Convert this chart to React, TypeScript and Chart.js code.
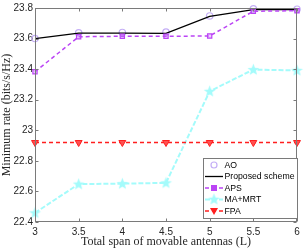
import React, { useEffect, useRef } from "react";
import { Chart, registerables } from "chart.js";
Chart.register(...registerables);

const spans = [3, 3.5, 4, 4.5, 5, 5.5, 6];
const aoRate = [23.6, 23.638, 23.64, 23.642, 23.748, 23.795, 23.792];
const proposedRate = [23.6, 23.635, 23.636, 23.634, 23.745, 23.79, 23.79];
const apsRate = [23.383, 23.612, 23.615, 23.615, 23.617, 23.779, 23.782];
const maMrtRate = [22.46, 22.648, 22.651, 22.656, 23.255, 23.397, 23.392];
const fpaRate = [22.92, 22.92, 22.92, 22.92, 22.92, 22.92, 22.92];
const xTicks = [3, 3.5, 4, 4.5, 5, 5.5, 6];
const yTicks = [22.4, 22.6, 22.8, 23, 23.2, 23.4, 23.6, 23.8];
const seriesNames = ["AO", "Proposed scheme", "APS", "MA+MRT", "FPA"];

const AO_C = "#c4aef6";
const APS_C = "#bb44f5";
const MA_C = "#a4fbfb";
const FPA_C = "#ff1f1f";
const AXIS_C = "#7a7a7a";
const TEXT_C = "#262626";

function makeStar(): HTMLCanvasElement {
  const c = document.createElement("canvas");
  c.width = 13;
  c.height = 13;
  const g = c.getContext("2d")!;
  g.fillStyle = MA_C;
  g.beginPath();
  for (let i = 0; i < 10; i++) {
    const r = i % 2 === 0 ? 6.2 : 2.6;
    const a = -Math.PI / 2 + (i * Math.PI) / 5;
    const x = 6.5 + r * Math.cos(a);
    const y = 6.8 + r * Math.sin(a);
    if (i === 0) g.moveTo(x, y);
    else g.lineTo(x, y);
  }
  g.closePath();
  g.fill();
  return c;
}

const pts = (ys: number[]) => spans.map((x, i) => ({ x, y: ys[i] }));

export default function App() {
  const ref = useRef<HTMLCanvasElement | null>(null);
  useEffect(() => {
    if (!ref.current) return;
    const star = makeStar();

    const framePlugin = {
      id: "frame",
      afterDraw(chart: any) {
        const { ctx, chartArea: a, scales } = chart;
        const l = Math.round(a.left) + 0.5;
        const r = Math.round(a.right) - 0.5;
        const t = Math.round(a.top) + 0.5;
        const b = Math.round(a.bottom) - 0.5;
        ctx.save();
        ctx.strokeStyle = AXIS_C;
        ctx.lineWidth = 1;
        ctx.strokeRect(l, t, r - l, b - t);
        ctx.beginPath();
        for (const v of xTicks) {
          const x = Math.round(scales.x.getPixelForValue(v)) + 0.5;
          ctx.moveTo(x, b);
          ctx.lineTo(x, b - 3);
          ctx.moveTo(x, t);
          ctx.lineTo(x, t + 3);
        }
        for (const v of yTicks) {
          const y = Math.round(scales.y.getPixelForValue(v)) + 0.5;
          ctx.moveTo(l, y);
          ctx.lineTo(l + 3, y);
          ctx.moveTo(r, y);
          ctx.lineTo(r - 3, y);
        }
        ctx.stroke();

        // legend
        const lx = 203.5, ly = 158.5, lw = 94, lh = 60;
        ctx.fillStyle = "#ffffff";
        ctx.fillRect(lx, ly, lw, lh);
        ctx.strokeStyle = AXIS_C;
        ctx.strokeRect(lx, ly, lw, lh);
        const rowY = [165, 176.5, 188, 199.5, 211];
        const x0 = 205, x1 = 223, xm = 214;
        ctx.font = "8.7px 'Liberation Sans', Arial, sans-serif";
        ctx.textBaseline = "middle";
        ctx.textAlign = "left";
        rowY.forEach((y, i) => {
          ctx.save();
          if (i === 0) {
            ctx.strokeStyle = AO_C;
            ctx.lineWidth = 1.2;
            ctx.beginPath();
            ctx.arc(xm, y, 3, 0, Math.PI * 2);
            ctx.stroke();
          } else if (i === 1) {
            ctx.strokeStyle = "#000";
            ctx.lineWidth = 1.3;
            ctx.beginPath();
            ctx.moveTo(x0, y);
            ctx.lineTo(x1, y);
            ctx.stroke();
          } else if (i === 2) {
            ctx.strokeStyle = APS_C;
            ctx.lineWidth = 1.5;
            ctx.setLineDash([4, 3]);
            ctx.beginPath();
            ctx.moveTo(x0, y);
            ctx.lineTo(x1, y);
            ctx.stroke();
            ctx.setLineDash([]);
            ctx.fillStyle = APS_C;
            ctx.fillRect(xm - 3, y - 3, 6, 6);
          } else if (i === 3) {
            ctx.strokeStyle = MA_C;
            ctx.lineWidth = 2;
            ctx.setLineDash([5, 2]);
            ctx.beginPath();
            ctx.moveTo(x0, y);
            ctx.lineTo(x1, y);
            ctx.stroke();
            ctx.drawImage(star, xm - 6.5, y - 6.8);
          } else {
            ctx.strokeStyle = FPA_C;
            ctx.lineWidth = 1.3;
            ctx.setLineDash([4, 3]);
            ctx.beginPath();
            ctx.moveTo(x0, y);
            ctx.lineTo(x1, y);
            ctx.stroke();
            ctx.setLineDash([]);
            ctx.fillStyle = FPA_C;
            ctx.beginPath();
            ctx.moveTo(xm - 4, y - 3);
            ctx.lineTo(xm + 4, y - 3);
            ctx.lineTo(xm, y + 4);
            ctx.closePath();
            ctx.fill();
          }
          ctx.restore();
          ctx.fillStyle = "#000";
          ctx.fillText(seriesNames[i], 224.5, y + 0.5);
        });
        ctx.restore();
      },
    };

    const chart = new Chart(ref.current, {
      type: "line",
      data: {
        datasets: [
          {
            label: seriesNames[4],
            data: pts(fpaRate),
            borderColor: FPA_C,
            borderWidth: 1.3,
            borderDash: [4, 3],
            pointStyle: "triangle",
            rotation: 180,
            radius: 4,
            pointBackgroundColor: "#ff5050",
            pointBorderColor: FPA_C,
            pointBorderWidth: 1,
            clip: false,
          },
          {
            label: seriesNames[3],
            data: pts(maMrtRate),
            borderColor: MA_C,
            borderWidth: 2,
            borderDash: [5, 2],
            pointStyle: star as any,
            radius: 6,
            clip: false,
          },
          {
            label: seriesNames[2],
            data: pts(apsRate),
            borderColor: APS_C,
            borderWidth: 1.5,
            borderDash: [4, 3],
            pointStyle: "rect",
            radius: 3,
            pointBackgroundColor: "rgba(200,120,250,0.35)",
            pointBorderColor: APS_C,
            pointBorderWidth: 1.2,
            clip: false,
          },
          {
            label: seriesNames[1],
            data: pts(proposedRate),
            borderColor: "#000000",
            borderWidth: 1.3,
            radius: 0,
            clip: false,
          },
          {
            label: seriesNames[0],
            data: pts(aoRate),
            showLine: false,
            pointStyle: "circle",
            radius: 3.2,
            pointBackgroundColor: "rgba(0,0,0,0)",
            pointBorderColor: AO_C,
            pointBorderWidth: 1.2,
            clip: false,
          },
        ],
      },
      options: {
        animation: false,
        responsive: false,
        maintainAspectRatio: false,
        layout: { padding: { top: 4, right: 6, left: 0, bottom: 0 } },
        plugins: { legend: { display: false }, tooltip: { enabled: false } },
        scales: {
          x: {
            type: "linear",
            min: 3,
            max: 6,
            grid: { display: false, drawTicks: false },
            border: { display: false },
            afterBuildTicks: (s: any) => {
              s.ticks = xTicks.map((v) => ({ value: v }));
            },
            afterFit: (s: any) => {
              s.height = 28;
            },
            ticks: {
              padding: 4,
              color: TEXT_C,
              font: { family: "'Liberation Sans', Arial, sans-serif", size: 10 },
              maxRotation: 0,
              callback: (v: any) => String(v),
            },
            title: {
              display: true,
              text: "Total span of movable antennas (L)",
              color: TEXT_C,
              font: { family: "'Liberation Serif', 'DejaVu Serif', serif", size: 12 },
              padding: { top: 0, bottom: 1 },
            },
          },
          y: {
            type: "linear",
            min: 22.4,
            max: 23.8,
            grid: { display: false, drawTicks: false },
            border: { display: false },
            afterBuildTicks: (s: any) => {
              s.ticks = yTicks.map((v) => ({ value: v }));
            },
            afterFit: (s: any) => {
              s.width = 35;
            },
            ticks: {
              padding: 2,
              color: TEXT_C,
              font: { family: "'Liberation Sans', Arial, sans-serif", size: 10 },
              callback: (v: any) => String(v),
            },
            title: {
              display: true,
              text: "Minimum rate (bits/s/Hz)",
              color: TEXT_C,
              font: { family: "'Liberation Serif', 'DejaVu Serif', serif", size: 12 },
              padding: { top: 0, bottom: 0 },
            },
          },
        },
      },
      plugins: [framePlugin],
    });
    return () => chart.destroy();
  }, []);

  return (
    <div style={{ position: "fixed", left: 0, top: 0, width: 305, height: 250, background: "#fff" }}>
      <canvas ref={ref} width={305} height={250} style={{ width: 305, height: 250, display: "block" }} />
    </div>
  );
}
